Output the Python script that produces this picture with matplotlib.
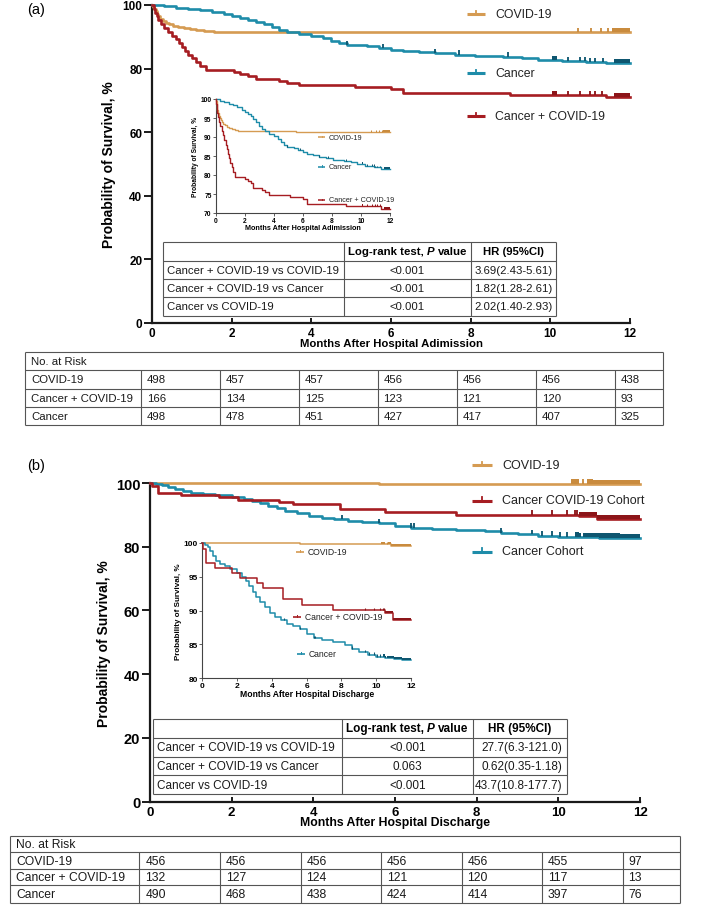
import numpy as np
import matplotlib
matplotlib.use("Agg")
import matplotlib.pyplot as plt

W, H = 709, 912
plt.rcParams["font.family"] = ["Liberation Sans", "DejaVu Sans"]

C_COVID = "#D59B52"
C_CANCER = "#1E8CA9"
C_BOTH = "#A61D22"
T_COVID = "#C98B3E"
T_CANCER = "#0E5670"
T_BOTH = "#8C1519"

months = [0, 2, 4, 6, 8, 10, 12]

# ---------------- panel (a): after hospital admission ----------------
a_covid_t = [0, 0.03, 0.06, 0.09, 0.12, 0.16, 0.2, 0.27, 0.34, 0.42, 0.52, 0.65, 0.8, 0.95, 1.1, 1.3, 1.55, 5.55, 12]
a_covid_s = [100, 99.4, 98.8, 98.0, 97.2, 96.4, 95.6, 95.0, 94.4, 93.9, 93.5, 93.1, 92.7, 92.4, 92.1, 91.9, 91.6, 91.4, 91.4]
a_covid_cens = [10.69, 11.02, 11.26, 11.45]
a_covid_blocks = [(11.55, 12.0)]

a_cancer_t = [0, 0.3, 0.6, 0.9, 1.2, 1.5, 1.8, 2.0, 2.2, 2.4, 2.6, 2.8, 3.0, 3.2, 3.4, 3.7, 4.0, 4.3, 4.5, 4.7, 4.9,
              5.4, 5.7, 6.0, 6.3, 6.7, 7.1, 7.6, 8.1, 8.8, 9.3, 9.7, 10.3, 10.9, 11.4, 12]
a_cancer_s = [100, 99.6, 99.2, 98.7, 98.3, 97.8, 97.2, 96.5, 96.0, 95.4, 94.8, 94.0, 93.0, 92.2, 91.5, 90.9, 90.3, 89.6,
              88.8, 88.0, 87.3, 87.0, 86.5, 86.0, 85.6, 85.2, 84.8, 84.4, 84.0, 83.8, 83.3, 82.8, 82.4, 82.0, 81.7, 81.7]
a_cancer_cens = [4.9, 5.8, 7.1, 7.7, 8.94, 10.45, 10.75, 10.88, 11.0, 11.13, 11.31]
a_cancer_blocks = [(10.05, 10.17), (11.6, 12.0)]

a_both_t = [0, 0.04, 0.08, 0.12, 0.16, 0.22, 0.3, 0.4, 0.5, 0.6, 0.68, 0.75, 0.82, 0.9, 1.0, 1.1, 1.2, 1.35, 2.05,
            2.2, 2.4, 2.6, 3.2, 3.4, 3.7, 5.1, 6.0, 6.3, 9.0, 11.4, 12]
a_both_s = [100, 98.8, 97.6, 96.4, 95.2, 94.0, 92.8, 91.6, 90.4, 89.2, 88.0, 86.8, 85.6, 84.4, 83.2, 82.0, 80.8, 79.6,
            79.0, 78.4, 77.8, 76.6, 76.0, 75.4, 74.8, 74.2, 73.6, 72.4, 71.8, 71.0, 71.0]
a_both_cens = [10.45, 10.75, 11.0, 11.13, 11.3]
a_both_blocks = [(10.05, 10.17), (11.6, 12.0)]

a_hr_rows = ["Cancer + COVID-19 vs COVID-19", "Cancer + COVID-19 vs Cancer", "Cancer vs COVID-19"]
a_hr_p = ["<0.001", "<0.001", "<0.001"]
a_hr_ci = ["3.69(2.43-5.61)", "1.82(1.28-2.61)", "2.02(1.40-2.93)"]

a_risk_groups = ["COVID-19", "Cancer + COVID-19", "Cancer"]
a_risk_covid = [498, 457, 457, 456, 456, 456, 438]
a_risk_both = [166, 134, 125, 123, 121, 120, 93]
a_risk_cancer = [498, 478, 451, 427, 417, 407, 325]

# ---------------- panel (b): after hospital discharge ----------------
b_covid_t = [0, 5.6, 10.85, 12]
b_covid_s = [100, 99.78, 99.56, 99.56]
b_covid_cens = [10.6]
b_covid_blocks = [(10.3, 10.5), (10.7, 12.0)]

b_both_t = [0, 0.05, 0.2, 0.75, 1.7, 2.15, 3.15, 3.5, 4.65, 5.75, 7.5, 10.5, 10.95, 12]
b_both_s = [100, 99.1, 97.0, 96.3, 95.5, 94.8, 94.1, 93.3, 91.7, 90.9, 90.1, 89.6, 88.6, 88.6]
b_both_cens = [9.35, 9.85, 10.2, 10.4, 10.45]
b_both_blocks = [(10.5, 12.0)]

b_cancer_t = [0, 0.15, 0.3, 0.45, 0.6, 0.8, 1.0, 1.3, 1.6, 2.0, 2.3, 2.5, 2.7, 2.9, 3.1, 3.3, 3.6, 3.9, 4.2, 4.5,
              4.85, 5.2, 5.6, 6.0, 6.4, 6.9, 7.5, 8.2, 8.6, 9.0, 9.5, 10.0, 10.5, 11.0, 11.5, 12]
b_cancer_s = [100, 99.7, 99.4, 98.8, 98.1, 97.4, 96.9, 96.6, 96.1, 95.5, 95.0, 94.4, 93.6, 92.7, 92.0, 91.3, 90.5,
              89.7, 89.0, 88.6, 88.1, 87.7, 87.3, 86.6, 85.9, 85.6, 85.3, 84.9, 84.4, 83.9, 83.5, 83.2, 83.0, 82.8,
              82.7, 82.7]
b_cancer_cens = [4.7, 5.6, 6.4, 6.47, 8.6, 9.35, 9.6, 9.85, 10.05, 10.2]
b_cancer_blocks = [(10.4, 10.55), (10.6, 12.0)]

b_hr_rows = ["Cancer + COVID-19 vs COVID-19", "Cancer + COVID-19 vs Cancer", "Cancer vs COVID-19"]
b_hr_p = ["<0.001", "0.063", "<0.001"]
b_hr_ci = ["27.7(6.3-121.0)", "0.62(0.35-1.18)", "43.7(10.8-177.7)"]

b_risk_groups = ["COVID-19", "Cancer + COVID-19", "Cancer"]
b_risk_covid = [456, 456, 456, 456, 456, 455, 97]
b_risk_both = [132, 127, 124, 121, 120, 117, 13]
b_risk_cancer = [490, 468, 438, 424, 414, 397, 76]


fig = plt.figure(figsize=(W / 100, H / 100), dpi=100)


def ax_px(left, top, right, bottom):
    return fig.add_axes([left / W, 1 - bottom / H, (right - left) / W, (bottom - top) / H])


def step_at(t, s, x):
    i = np.searchsorted(np.asarray(t), x, side="right") - 1
    return np.asarray(s)[i]


def draw_km(ax, t, s, cens, blocks, color, tcolor, lw, th):
    ax.step(t, s, where="post", color=color, lw=lw, clip_on=False, zorder=3)
    ys = np.array([step_at(t, s, c) for c in cens])
    if len(cens):
        ax.vlines(cens, ys, ys + th, color=tcolor, lw=lw * 0.7, clip_on=False, zorder=4)
    for b0, b1 in blocks:
        xs = [b0] + [x for x in t if b0 < x < b1] + [b1]
        yy = np.array([step_at(t, s, x) for x in xs])
        ax.fill_between(xs, yy, yy + th, step="post", color=tcolor, lw=0, zorder=4, clip_on=False)


def style_main(ax, xlabel, ylab_x, tsize_x, tsize_y, xl_size):
    ax.set_xlim(0, 12)
    ax.set_ylim(0, 100)
    ax.set_xticks(months)
    ax.set_yticks([0, 20, 40, 60, 80, 100])
    for sp in ["top", "right"]:
        ax.spines[sp].set_visible(False)
    for sp in ["left", "bottom"]:
        ax.spines[sp].set_linewidth(1.6)
        ax.spines[sp].set_color("#1a1a1a")
    ax.tick_params(axis="y", direction="out", length=6, width=1.4, labelsize=tsize_y, pad=1, color="#1a1a1a")
    ax.tick_params(axis="x", direction="in", length=3.5, width=1.4, labelsize=tsize_x, pad=3, color="#1a1a1a")
    for lab in ax.get_xticklabels() + ax.get_yticklabels():
        lab.set_fontweight("bold")
    ax.set_xlabel(xlabel, fontsize=xl_size, fontweight="bold", labelpad=-1)
    ax.set_ylabel("Probability of Survival, %", fontsize=10, fontweight="bold")
    ax.yaxis.set_label_coords(ylab_x, 0.5)
    ax.patch.set_alpha(0)


def style_inset(ax, ylo, yticks, xlabel, tsize, xl_size, yl_size):
    ax.set_xlim(0, 12)
    ax.set_ylim(ylo, 100)
    ax.set_xticks(months)
    ax.set_yticks(yticks)
    for sp in ["top", "right"]:
        ax.spines[sp].set_visible(False)
    for sp in ["left", "bottom"]:
        ax.spines[sp].set_linewidth(0.8)
        ax.spines[sp].set_color("#444444")
    ax.tick_params(direction="out", length=2, width=0.6, labelsize=tsize, pad=1, color="#444444")
    for lab in ax.get_xticklabels() + ax.get_yticklabels():
        lab.set_fontweight("bold")
    ax.set_xlabel(xlabel, fontsize=xl_size, fontweight="bold", labelpad=0)
    ax.set_ylabel("Probability of Survival, %", fontsize=yl_size, fontweight="bold", labelpad=1)
    ax.patch.set_alpha(0)


# ---------------- axes ----------------
ax_a = ax_px(152, 6, 630, 324)
in_a = ax_px(215.7, 100, 390, 214)
ax_b = ax_px(150, 484, 640, 802.5)
in_b = ax_px(202.3, 544, 411, 679.3)

style_main(ax_a, "Months After Hospital Adimission", -0.075, 8.5, 8.5, 8.2)
style_main(ax_b, "Months After Hospital Discharge", -0.08, 9.5, 10.5, 8.8)
style_inset(in_a, 70, [70, 75, 80, 85, 90, 95, 100], "Months After Hospital Adimission", 4.8, 5.2, 4.8)
style_inset(in_b, 80, [80, 85, 90, 95, 100], "Months After Hospital Discharge", 6.0, 6.2, 5.8)

for ax, lw, th in [(ax_a, 1.9, 1.3), (in_a, 1.0, 0.5)]:
    draw_km(ax, a_covid_t, a_covid_s, a_covid_cens, a_covid_blocks, C_COVID, T_COVID, lw, th)
    draw_km(ax, a_cancer_t, a_cancer_s, a_cancer_cens, a_cancer_blocks, C_CANCER, T_CANCER, lw, th)
    draw_km(ax, a_both_t, a_both_s, a_both_cens, a_both_blocks, C_BOTH, T_BOTH, lw, th)

for ax, lw, th in [(ax_b, 1.9, 1.4), (in_b, 1.1, 0.35)]:
    draw_km(ax, b_covid_t, b_covid_s, b_covid_cens, b_covid_blocks, C_COVID, T_COVID, lw, th)
    draw_km(ax, b_cancer_t, b_cancer_s, b_cancer_cens, b_cancer_blocks, C_CANCER, T_CANCER, lw, th)
    draw_km(ax, b_both_t, b_both_s, b_both_cens, b_both_blocks, C_BOTH, T_BOTH, lw, th)

# ---------------- overlay in pixel coordinates ----------------
ov = fig.add_axes([0, 0, 1, 1], zorder=10)
ov.set_xlim(0, W)
ov.set_ylim(H, 0)
ov.axis("off")

ov.text(27, 10, "(a)", fontsize=10.5, va="center", ha="left")
ov.text(27, 466, "(b)", fontsize=10.5, va="center", ha="left")


def legend_item(x0, x1, y, tx, label, color, size, lw, tick):
    ov.plot([x0, x1], [y, y], color=color, lw=lw, solid_capstyle="butt")
    xm = (x0 + x1) / 2
    ov.plot([xm, xm], [y, y - tick], color=color, lw=lw * 0.6)
    ov.text(tx, y, label, fontsize=size, va="center", ha="left", color="#222222")


# main legends
for lab, col, y in [("COVID-19", C_COVID, 15), ("Cancer", C_CANCER, 74), ("Cancer + COVID-19", C_BOTH, 117)]:
    legend_item(467, 485, y, 495, lab, col, 8.8, 2.2, 3.5)
for lab, col, y in [("COVID-19", C_COVID, 466), ("Cancer COVID-19 Cohort", C_BOTH, 501.5),
                    ("Cancer Cohort", C_CANCER, 552.5)]:
    legend_item(472, 492, y, 502, lab, col, 9.0, 2.2, 3.5)

# inset legends
for lab, col, y in [("COVID-19", C_COVID, 138), ("Cancer", C_CANCER, 167.5), ("Cancer + COVID-19", C_BOTH, 201)]:
    legend_item(318, 325, y, 329, lab, col, 5.2, 1.1, 1.5)
for lab, col, y, x0 in [("COVID-19", C_COVID, 552.5, 296), ("Cancer + COVID-19", C_BOTH, 617.5, 293),
                        ("Cancer", C_CANCER, 654.5, 297)]:
    legend_item(x0, x0 + 8, y, x0 + 12, lab, col, 6.2, 1.2, 1.8)


def grid(xs, ys, merged_first=False, color="#666666", lw=0.8, fill=True):
    if fill:
        ov.fill_between([xs[0], xs[-1]], ys[0], ys[-1], color="white", zorder=0)
    for y in ys:
        ov.plot([xs[0], xs[-1]], [y, y], color=color, lw=lw, solid_capstyle="butt")
    for i, x in enumerate(xs):
        top = ys[1] if (merged_first and 0 < i < len(xs) - 1) else ys[0]
        ov.plot([x, x], [top, ys[-1]], color=color, lw=lw, solid_capstyle="butt")


def rich_center(xc, y, parts, size):
    r = fig.canvas.get_renderer()
    objs, widths = [], []
    for s, style in parts:
        t = ov.text(0, y, s, fontsize=size, fontweight="bold", fontstyle=style, va="center", ha="left")
        objs.append(t)
        widths.append(t.get_window_extent(r).width)
    gap = size * 0.278 * 100 / 72
    total = sum(widths) + gap * (len(parts) - 1)
    x = xc - total / 2
    for t, w in zip(objs, widths):
        t.set_x(x)
        x += w + gap


def hr_table(xs, ys, rows, pvals, cis, size, ci_align):
    grid(xs, ys, color="#555555")
    yc = [(ys[i] + ys[i + 1]) / 2 for i in range(len(ys) - 1)]
    rich_center((xs[1] + xs[2]) / 2, yc[0], [("Log-rank test,", "normal"), ("P", "italic"), ("value", "normal")],
                size)
    ov.text((xs[2] + xs[3]) / 2, yc[0], "HR (95%CI)", fontsize=size, fontweight="bold", ha="center", va="center")
    for i, (r, p, c) in enumerate(zip(rows, pvals, cis)):
        ov.text(xs[0] + 4, yc[i + 1], r, fontsize=size, ha="left", va="center", color="#1a1a1a")
        ov.text((xs[1] + xs[2]) / 2, yc[i + 1], p, fontsize=size, ha="center", va="center", color="#1a1a1a")
        if ci_align == "center":
            ov.text((xs[2] + xs[3]) / 2, yc[i + 1], c, fontsize=size, ha="center", va="center", color="#1a1a1a")
        else:
            ov.text(xs[3] - 4, yc[i + 1], c, fontsize=size, ha="right", va="center", color="#1a1a1a")


def risk_table(xs, ys, groups, rows, size):
    grid(xs, ys, merged_first=True, color="#555555")
    yc = [(ys[i] + ys[i + 1]) / 2 for i in range(len(ys) - 1)]
    ov.text(xs[0] + 6, yc[0], "No. at Risk", fontsize=size, ha="left", va="center", color="#1a1a1a")
    for i, (g, vals) in enumerate(zip(groups, rows)):
        ov.text(xs[0] + 6, yc[i + 1], g, fontsize=size, ha="left", va="center", color="#1a1a1a")
        for j, v in enumerate(vals):
            ov.text(xs[j + 1] + 6, yc[i + 1], str(v), fontsize=size, ha="left", va="center", color="#1a1a1a")


hr_table([162.7, 344.3, 470.7, 556], [243.3, 261.7, 280, 298.3, 316.7], a_hr_rows, a_hr_p, a_hr_ci, 8.2, "center")
hr_table([153.3, 341.7, 472.7, 566.7], [720, 738.75, 757.5, 776.25, 795], b_hr_rows, b_hr_p, b_hr_ci, 8.5, "right")

risk_table([25, 140.7, 219.7, 298.6, 377.5, 456.5, 535.9, 614.8, 663], [353, 371.2, 389.5, 407.7, 426],
           a_risk_groups, [a_risk_covid, a_risk_both, a_risk_cancer], 8.2)
risk_table([10, 139.3, 220, 300.5, 381, 461.5, 542, 622.5, 680], [837, 853.5, 870, 886.5, 904],
           b_risk_groups, [b_risk_covid, b_risk_both, b_risk_cancer], 8.7)

fig.savefig("out.png", dpi=100)
